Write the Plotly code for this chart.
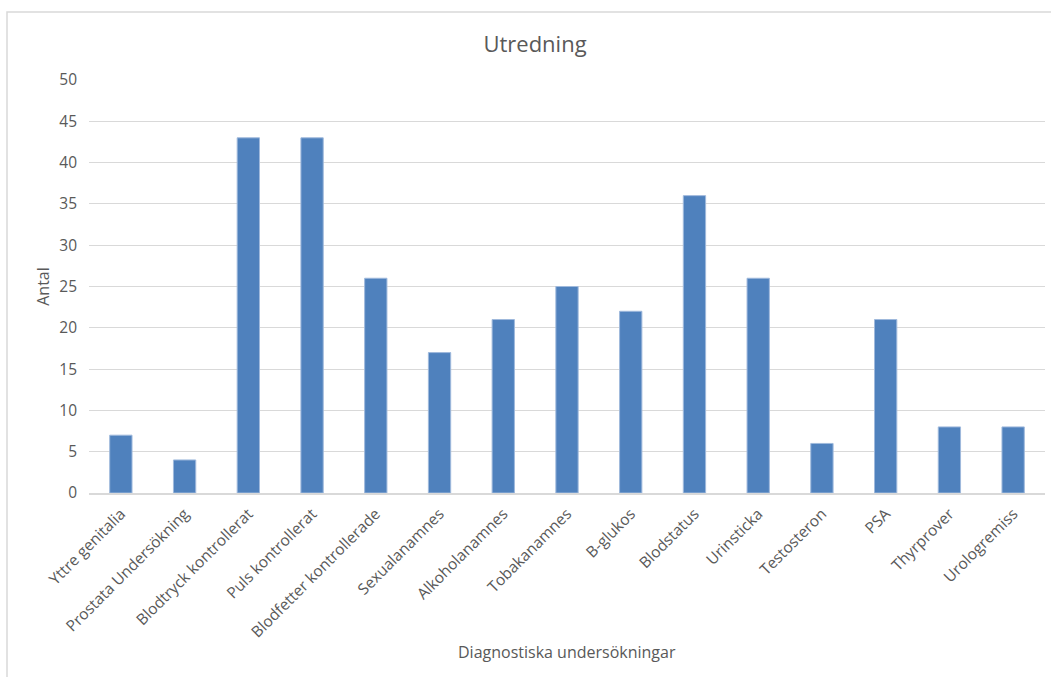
import plotly.graph_objects as go

categories = [
    "Yttre genitalia", "Prostata Undersökning", "Blodtryck kontrollerat",
    "Puls kontrollerat", "Blodfetter kontrollerade", "Sexualanamnes",
    "Alkoholanamnes", "Tobakanamnes", "B-glukos", "Blodstatus",
    "Urinsticka", "Testosteron", "PSA", "Thyrprover", "Urologremiss",
]
antal = [7, 4, 43, 43, 26, 17, 21, 25, 22, 36, 26, 6, 21, 8, 8]
y_ticks = [0, 5, 10, 15, 20, 25, 30, 35, 40, 45, 50]

W, H = 1051, 677
L, R, T, B = 89, 6, 80, 184
plot_w = W - L - R
plot_h = H - T - B

FONT = "Open Sans, Liberation Sans, sans-serif"
GREY = "#595959"

fig = go.Figure(
    go.Bar(
        x=categories,
        y=antal,
        marker=dict(color="#4f81bd", line=dict(color="#9fb9dc", width=1)),
        hoverinfo="x+y",
    )
)

# outer chart frame (top and left edges visible)
x0 = (7 - L) / plot_w
y1 = 1 + (T - 12) / plot_h
fig.add_shape(
    type="rect", xref="paper", yref="paper",
    x0=x0, x1=1.2, y0=-1.0, y1=y1,
    line=dict(color="#d9d9d9", width=1.5), fillcolor="rgba(0,0,0,0)",
    layer="below",
)

# x-axis title placed as an annotation below the rotated labels
fig.add_annotation(
    text="Diagnostiska undersökningar", xref="paper", yref="paper",
    x=(567 - L) / plot_w, y=-(652 - (H - B)) / plot_h,
    xanchor="center", yanchor="middle", showarrow=False,
    font=dict(size=16, color=GREY, family=FONT),
)

fig.update_layout(
    width=W, height=H,
    margin=dict(l=L, r=R, t=T, b=B, autoexpand=False),
    paper_bgcolor="white", plot_bgcolor="white",
    font=dict(family=FONT, color=GREY, size=15),
    title=dict(
        text="Utredning", x=(535 - L) / plot_w, xref="paper", xanchor="center",
        y=1 - 44 / H, yanchor="middle",
        font=dict(size=22, color=GREY, family=FONT),
    ),
    bargap=0.65,
    showlegend=False,
    xaxis=dict(
        tickangle=-45,
        tickfont=dict(size=15.5, color=GREY),
        showgrid=False, showline=True, linecolor="#d9d9d9", linewidth=1.5,
        ticks="", ticklabelstandoff=4,
        automargin=False,
    ),
    yaxis=dict(
        range=[0, 50],
        tickvals=y_ticks,
        tickfont=dict(size=15.5, color=GREY),
        showgrid=True, gridcolor="#d9d9d9", gridwidth=1,
        zeroline=False, showline=False, ticks="",
        ticklabelstandoff=11,
        automargin=False,
        title=dict(text="Antal", standoff=5, font=dict(size=16, color=GREY)),
    ),
)

fig.write_html("out.html")
